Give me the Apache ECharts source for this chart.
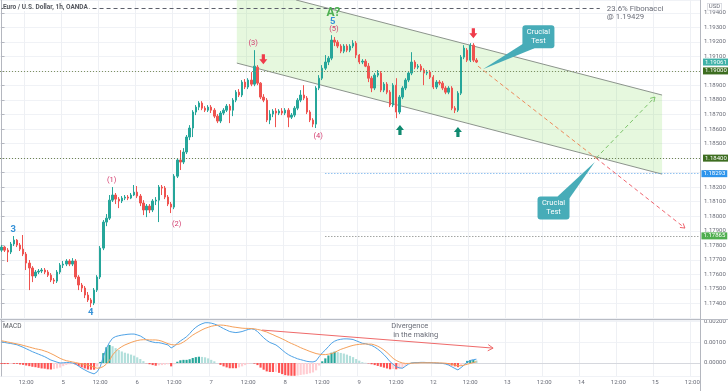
<!DOCTYPE html>
<html>
<head>
<meta charset="utf-8">
<script src="https://cdn.jsdelivr.net/npm/echarts@6/dist/echarts.min.js"></script>
<style>
  html, body { margin: 0; padding: 0; background: #fff; }
  #chart { width: 728px; height: 391px; }
</style>
</head>
<body>
<div id="chart"></div>
<script>
// EUR/USD 1h, OANDA — hourly bars from day 4 04:00, axis runs to day 15 14:00
var days = ['4', '5', '6', '7', '8', '9', '12', '13', '14', '15'];
var firstHour = 4, lastHour = 14;

// [open, close, low, high]
var candles = [
  [1.17767, 1.17788, 1.17754, 1.17802], [1.17788, 1.17767, 1.17754, 1.17795], [1.17767, 1.17754, 1.17685, 1.17781],
  [1.17754, 1.17809, 1.17740, 1.17823], [1.17809, 1.17836, 1.17795, 1.17864], [1.17836, 1.17802, 1.17788, 1.17843],
  [1.17802, 1.17774, 1.17761, 1.17816], [1.17774, 1.17740, 1.17726, 1.17871], [1.17740, 1.17678, 1.17630, 1.17754],
  [1.17678, 1.17644, 1.17492, 1.17699], [1.17644, 1.17589, 1.17547, 1.17657], [1.17589, 1.17616, 1.17575, 1.17630],
  [1.17616, 1.17623, 1.17602, 1.17637], [1.17623, 1.17630, 1.17609, 1.17644], [1.17630, 1.17616, 1.17602, 1.17644],
  [1.17616, 1.17595, 1.17582, 1.17630], [1.17595, 1.17561, 1.17547, 1.17609], [1.17561, 1.17554, 1.17534, 1.17575],
  [1.17554, 1.17616, 1.17541, 1.17630], [1.17616, 1.17664, 1.17602, 1.17678], [1.17664, 1.17671, 1.17644, 1.17692],
  [1.17671, 1.17692, 1.17657, 1.17705], [1.17692, 1.17671, 1.17657, 1.17705], [1.17671, 1.17692, 1.17657, 1.17712],
  [1.17692, 1.17582, 1.17568, 1.17705], [1.17582, 1.17527, 1.17492, 1.17595], [1.17527, 1.17506, 1.17479, 1.17541],
  [1.17506, 1.17458, 1.17437, 1.17520], [1.17458, 1.17424, 1.17410, 1.17479], [1.17424, 1.17403, 1.17375, 1.17437],
  [1.17403, 1.17492, 1.17389, 1.17506], [1.17492, 1.17582, 1.17479, 1.17595], [1.17582, 1.17781, 1.17568, 1.17795],
  [1.17781, 1.17960, 1.17767, 1.17974], [1.17960, 1.17987, 1.17932, 1.18015], [1.17987, 1.18111, 1.17974, 1.18146],
  [1.18111, 1.18146, 1.18098, 1.18201], [1.18146, 1.18118, 1.18084, 1.18160], [1.18118, 1.18105, 1.18056, 1.18132],
  [1.18105, 1.18125, 1.18091, 1.18139], [1.18125, 1.18132, 1.18111, 1.18146], [1.18132, 1.18125, 1.18111, 1.18146],
  [1.18125, 1.18146, 1.18118, 1.18160], [1.18146, 1.18166, 1.18139, 1.18215], [1.18166, 1.18139, 1.18125, 1.18208],
  [1.18139, 1.18091, 1.18070, 1.18153], [1.18091, 1.18043, 1.18008, 1.18111], [1.18043, 1.18070, 1.17994, 1.18084],
  [1.18070, 1.18043, 1.18022, 1.18084], [1.18043, 1.18105, 1.18029, 1.18118], [1.18105, 1.18111, 1.18077, 1.18132],
  [1.18111, 1.18201, 1.17960, 1.18215], [1.18201, 1.18194, 1.18146, 1.18215], [1.18194, 1.18132, 1.18118, 1.18208],
  [1.18132, 1.18084, 1.18070, 1.18146], [1.18084, 1.18063, 1.18022, 1.18098], [1.18063, 1.18276, 1.18049, 1.18290],
  [1.18276, 1.18387, 1.18263, 1.18400], [1.18387, 1.18373, 1.18318, 1.18455], [1.18373, 1.18442, 1.18359, 1.18469],
  [1.18442, 1.18545, 1.18428, 1.18559], [1.18545, 1.18607, 1.18524, 1.18627], [1.18607, 1.18717, 1.18545, 1.18730],
  [1.18717, 1.18751, 1.18696, 1.18765], [1.18751, 1.18779, 1.18730, 1.18792], [1.18779, 1.18744, 1.18730, 1.18792],
  [1.18744, 1.18730, 1.18717, 1.18758], [1.18730, 1.18751, 1.18717, 1.18765], [1.18751, 1.18730, 1.18710, 1.18765],
  [1.18730, 1.18689, 1.18675, 1.18744], [1.18689, 1.18655, 1.18641, 1.18703], [1.18655, 1.18710, 1.18641, 1.18724],
  [1.18710, 1.18730, 1.18696, 1.18744], [1.18730, 1.18758, 1.18717, 1.18772], [1.18758, 1.18730, 1.18641, 1.18772],
  [1.18730, 1.18799, 1.18689, 1.18813], [1.18799, 1.18854, 1.18785, 1.18868], [1.18854, 1.18834, 1.18820, 1.18875],
  [1.18834, 1.18923, 1.18820, 1.18937], [1.18923, 1.18889, 1.18875, 1.18944], [1.18889, 1.18937, 1.18875, 1.18950],
  [1.18937, 1.18909, 1.18895, 1.18992], [1.18909, 1.19033, 1.18895, 1.19143], [1.19026, 1.18916, 1.18902, 1.19040],
  [1.18916, 1.18820, 1.18806, 1.18923], [1.18820, 1.18799, 1.18785, 1.18840], [1.18799, 1.18662, 1.18648, 1.18813],
  [1.18662, 1.18703, 1.18634, 1.18730], [1.18703, 1.18724, 1.18682, 1.18737], [1.18724, 1.18710, 1.18613, 1.18744],
  [1.18710, 1.18724, 1.18696, 1.18737], [1.18724, 1.18710, 1.18696, 1.18744], [1.18710, 1.18730, 1.18696, 1.18744],
  [1.18730, 1.18682, 1.18613, 1.18744], [1.18682, 1.18696, 1.18669, 1.18710], [1.18696, 1.18744, 1.18682, 1.18758],
  [1.18744, 1.18799, 1.18730, 1.18813], [1.18799, 1.18834, 1.18785, 1.18868], [1.18834, 1.18813, 1.18799, 1.18902],
  [1.18813, 1.18717, 1.18703, 1.18827], [1.18717, 1.18662, 1.18648, 1.18730], [1.18662, 1.18634, 1.18613, 1.18675],
  [1.18634, 1.18882, 1.18607, 1.18895], [1.18882, 1.18950, 1.18868, 1.18971], [1.18950, 1.19019, 1.18937, 1.19040],
  [1.19019, 1.19061, 1.19006, 1.19109], [1.19061, 1.19088, 1.19040, 1.19102], [1.19088, 1.19212, 1.19074, 1.19246],
  [1.19212, 1.19198, 1.19171, 1.19233], [1.19198, 1.19171, 1.19157, 1.19212], [1.19171, 1.19136, 1.19122, 1.19184],
  [1.19136, 1.19171, 1.19122, 1.19184], [1.19171, 1.19143, 1.19129, 1.19184], [1.19143, 1.19171, 1.19129, 1.19184],
  [1.19171, 1.19191, 1.19157, 1.19212], [1.19191, 1.19109, 1.19088, 1.19205], [1.19109, 1.19061, 1.19047, 1.19116],
  [1.19061, 1.19067, 1.19047, 1.19081], [1.19067, 1.19033, 1.19026, 1.19081], [1.19033, 1.18950, 1.18923, 1.19054],
  [1.18950, 1.18882, 1.18854, 1.18964], [1.18882, 1.18971, 1.18868, 1.18985], [1.18971, 1.18985, 1.18957, 1.19006],
  [1.18985, 1.18868, 1.18854, 1.18999], [1.18868, 1.18909, 1.18854, 1.18923], [1.18909, 1.18854, 1.18840, 1.18923],
  [1.18854, 1.18765, 1.18751, 1.18868], [1.18765, 1.18902, 1.18751, 1.18916], [1.18902, 1.18717, 1.18675, 1.18950],
  [1.18717, 1.18820, 1.18703, 1.18834], [1.18820, 1.18882, 1.18806, 1.18895], [1.18882, 1.18937, 1.18868, 1.18950],
  [1.18937, 1.18985, 1.18923, 1.18999], [1.18985, 1.19061, 1.18971, 1.19129], [1.19061, 1.19026, 1.19012, 1.19074],
  [1.19026, 1.19033, 1.19012, 1.19047], [1.19033, 1.19006, 1.18992, 1.19047], [1.19006, 1.18985, 1.18902, 1.19019],
  [1.18985, 1.18992, 1.18971, 1.19006], [1.18992, 1.18957, 1.18944, 1.19006], [1.18957, 1.18889, 1.18875, 1.18971],
  [1.18889, 1.18923, 1.18875, 1.18937], [1.18923, 1.18916, 1.18902, 1.18937], [1.18916, 1.18882, 1.18868, 1.18930],
  [1.18882, 1.18854, 1.18840, 1.18895], [1.18854, 1.18882, 1.18840, 1.18895], [1.18882, 1.18744, 1.18730, 1.18895],
  [1.18744, 1.18730, 1.18710, 1.18758], [1.18730, 1.18847, 1.18717, 1.18861], [1.18847, 1.19095, 1.18834, 1.19109],
  [1.19095, 1.19157, 1.19081, 1.19177], [1.19143, 1.19074, 1.19061, 1.19157], [1.19074, 1.19177, 1.19061, 1.19191],
  [1.19177, 1.19074, 1.19061, 1.19191], [1.19074, 1.19061, 1.19054, 1.19088]
];

// MACD (12, 26, 9)
var macdLine = [
  0.00101, 0.00098, 0.00095, 0.00093, 0.00090, 0.00087, 0.00081, 0.00075, 0.00068, 0.00061,
  0.00054, 0.00048, 0.00042, 0.00036, 0.00030, 0.00022, 0.00014, 0.00009, 0.00004, 0.00000,
  0.00001, 0.00002, 0.00002, 0.00000, -0.00005, -0.00015, -0.00025, -0.00033, -0.00041, -0.00047,
  -0.00052, -0.00042, -0.00018, 0.00030, 0.00070, 0.00098, 0.00118, 0.00126, 0.00130, 0.00133,
  0.00135, 0.00137, 0.00138, 0.00138, 0.00134, 0.00129, 0.00120, 0.00110, 0.00104, 0.00100,
  0.00097, 0.00097, 0.00094, 0.00090, 0.00086, 0.00072, 0.00080, 0.00094, 0.00105, 0.00115,
  0.00125, 0.00140, 0.00157, 0.00170, 0.00180, 0.00187, 0.00192, 0.00192, 0.00190, 0.00186,
  0.00180, 0.00172, 0.00164, 0.00157, 0.00150, 0.00147, 0.00145, 0.00147, 0.00150, 0.00155,
  0.00160, 0.00163, 0.00160, 0.00150, 0.00135, 0.00120, 0.00108, 0.00098, 0.00092, 0.00086,
  0.00075, 0.00062, 0.00050, 0.00040, 0.00032, 0.00026, 0.00020, 0.00016, 0.00012, 0.00008,
  0.00006, 0.00005, 0.00010, 0.00030, 0.00048, 0.00062, 0.00078, 0.00094, 0.00104, 0.00110,
  0.00113, 0.00115, 0.00115, 0.00114, 0.00112, 0.00106, 0.00100, 0.00094, 0.00092, 0.00088,
  0.00084, 0.00076, 0.00066, 0.00054, 0.00040, 0.00024, 0.00006, -0.00006, -0.00018, -0.00023,
  -0.00025, -0.00015, -0.00005, 0.00000, 0.00002, 0.00002, 0.00003, 0.00003, 0.00002, 0.00002,
  0.00001, 0.00000, -0.00001, -0.00002, -0.00005, -0.00010, -0.00018, -0.00026, -0.00033, -0.00022,
  -0.00010, 0.00004, 0.00012, 0.00016, 0.00018
];
var signalLine = [
  0.00106, 0.00103, 0.00100, 0.00097, 0.00094, 0.00091, 0.00088, 0.00084, 0.00080, 0.00076,
  0.00072, 0.00068, 0.00065, 0.00062, 0.00057, 0.00052, 0.00045, 0.00038, 0.00030, 0.00022,
  0.00016, 0.00011, 0.00008, 0.00005, 0.00002, -0.00001, -0.00004, -0.00007, -0.00010, -0.00015,
  -0.00020, -0.00025, -0.00023, -0.00017, -0.00005, 0.00012, 0.00038, 0.00055, 0.00068, 0.00078,
  0.00086, 0.00092, 0.00098, 0.00103, 0.00107, 0.00110, 0.00111, 0.00111, 0.00110, 0.00110,
  0.00110, 0.00108, 0.00104, 0.00098, 0.00092, 0.00088, 0.00086, 0.00088, 0.00092, 0.00100,
  0.00110, 0.00122, 0.00133, 0.00142, 0.00150, 0.00158, 0.00165, 0.00170, 0.00175, 0.00178,
  0.00180, 0.00181, 0.00180, 0.00178, 0.00175, 0.00172, 0.00170, 0.00168, 0.00166, 0.00165,
  0.00165, 0.00164, 0.00163, 0.00160, 0.00157, 0.00152, 0.00148, 0.00141, 0.00135, 0.00128,
  0.00122, 0.00115, 0.00108, 0.00100, 0.00093, 0.00087, 0.00080, 0.00073, 0.00067, 0.00061,
  0.00055, 0.00050, 0.00045, 0.00042, 0.00040, 0.00040, 0.00042, 0.00045, 0.00050, 0.00058,
  0.00065, 0.00070, 0.00075, 0.00080, 0.00084, 0.00087, 0.00089, 0.00090, 0.00091, 0.00090,
  0.00090, 0.00086, 0.00080, 0.00072, 0.00062, 0.00050, 0.00036, 0.00022, 0.00012, 0.00005,
  0.00000, -0.00002, -0.00002, -0.00001, 0.00000, 0.00000, 0.00001, 0.00001, 0.00001, 0.00001,
  0.00001, 0.00001, 0.00000, 0.00000, -0.00001, -0.00003, -0.00006, -0.00010, -0.00013, -0.00013,
  -0.00010, -0.00006, -0.00002, 0.00002, 0.00006
];

// drawn levels
var fibLevel = 1.19429;
var fibEnd = 194;       // bar where the fibonacci line stops (its caption follows)
var lastPrice = 1.19061;
var fullLevels = [1.19000, 1.18400];
var targetLevels = [1.18293, 1.17865];
var targetFrom = 105;   // bar where the target lines start

// drawings, [bar position, price]
var channelUpper = [[76.3, 1.19594], [214.2, 1.18834]];
var channelLower = [[76.3, 1.19054], [214.2, 1.18290]];
var pathDown = [[154.5, 1.19033], [192.8, 1.18400]];
var pathDownMore = [[192.8, 1.18400], [221.6, 1.17919]];
var pathUp = [[192.8, 1.18400], [211.9, 1.18820]];
var redArrows = [[84.9, 1.19081], [153.0, 1.19260]];
var greenArrows = [[129.2, 1.18593], [148.0, 1.18579]];
var callouts = [
  { tip: [156.1, 1.19012], center: [174.1, 1.19236] },
  { tip: [192.4, 1.18373], center: [179.0, 1.18056] }
];
var waveMain = [['3', 3.8, 1.17910], ['4', 28.9, 1.17336], ['5', 107.4, 1.19338]];
var waveSub = [['(1)', 35.7, 1.18249], ['(2)', 56.8, 1.17946], ['(3)', 81.6, 1.19193],
               ['(4)', 102.7, 1.18554], ['(5)', 107.8, 1.19285]];
var waveA = ['A?', 107.6, 1.19396];
var fibTextAt = [196.3, 1.19457];
var divergence = [[84.5, 0.00157], [159.4, 0.00071]];
var divergenceText = [[132.4, 0.00176, 'Divergence'], [134.3, 0.00133, 'in the making']];

var FONT = 'Roboto, "Noto Sans", sans-serif';

var categories = [];
days.forEach(function (d, di) {
  for (var h = 0; h < 24; h++) {
    if (di === 0 && h < firstHour) continue;
    if (di === days.length - 1 && h > lastHour) continue;
    categories.push(d + '|' + h);
  }
});
var nCat = categories.length;

function isLabelHour(idx, val) {
  var h = +String(val).split('|')[1];
  return h === 0 || h === 12;
}

var hist = macdLine.map(function (m, i) { return +(m - signalLine[i]).toFixed(6); });
var histData = hist.map(function (h, i) {
  var prev = i > 0 ? hist[i - 1] : h;
  var c;
  if (h >= 0) c = h >= prev ? '#26a69a' : '#b2dfdb';
  else c = h <= prev ? '#ff5252' : '#ffcdd2';
  return { value: h, itemStyle: { color: c } };
});

function lineEl(a, b, stroke, dash) {
  return { type: 'line', shape: { x1: a[0], y1: a[1], x2: b[0], y2: b[1] },
    style: { stroke: stroke, lineWidth: 1, lineDash: dash || null } };
}
function headEl(from, to, stroke, size) {
  var a = Math.atan2(to[1] - from[1], to[0] - from[0]);
  var p1 = [to[0] - size * Math.cos(a - 0.55), to[1] - size * Math.sin(a - 0.55)];
  var p2 = [to[0] - size * Math.cos(a + 0.55), to[1] - size * Math.sin(a + 0.55)];
  return { type: 'polyline', shape: { points: [p1, to, p2] }, style: { stroke: stroke, lineWidth: 1, fill: null } };
}
function textEl(txt, p, color, size, weight, align) {
  return { type: 'text', x: p[0], y: p[1], style: { text: txt, fill: color, fontSize: size,
    fontWeight: weight || 'normal', fontFamily: FONT, align: align || 'center', verticalAlign: 'middle' } };
}

function renderChannel(params, api) {
  var top = params.coordSys.y;
  var u0 = api.coord(channelUpper[0]), u1 = api.coord(channelUpper[1]);
  var l0 = api.coord(channelLower[0]), l1 = api.coord(channelLower[1]);
  var pts = [], start = u0;
  if (u0[1] < top) {
    var t = (top - u0[1]) / (u1[1] - u0[1]);
    start = [u0[0] + t * (u1[0] - u0[0]), top];
    pts.push([u0[0], top]);
  }
  pts.push(start, u1, l1, l0);
  return { type: 'group', children: [
    { type: 'polygon', shape: { points: pts }, style: { fill: 'rgba(130,222,90,0.2)' } },
    lineEl(start, u1, '#8c948c'),
    lineEl(l0, l1, '#8c948c')
  ] };
}

function renderNotes(params, api) {
  var kids = [];
  var a = api.coord(pathDown[0]), b = api.coord(pathDown[1]);
  kids.push(lineEl(a, b, '#ee8a5c', [4, 3]));
  var c = api.coord(pathDownMore[0]), d = api.coord(pathDownMore[1]);
  kids.push(lineEl(c, d, '#f0646e', [4, 3]), headEl(c, d, '#f0646e', 5));
  var e = api.coord(pathUp[0]), f = api.coord(pathUp[1]);
  kids.push(lineEl(e, f, '#7cc46a', [4, 3]), headEl(e, f, '#7cc46a', 5));

  callouts.forEach(function (co) {
    var tip = api.coord(co.tip), ctr = api.coord(co.center);
    var w = 32, h = 23, bx = ctr[0] - w / 2, by = ctr[1] - h / 2;
    var left = tip[0] < ctr[0], below = tip[1] > ctr[1];
    var cx = left ? bx : bx + w, cy = below ? by + h : by;
    var sx = left ? 1 : -1, sy = below ? -1 : 1;
    kids.push({ type: 'polygon', shape: { points: [[cx + sx * 3, cy + sy * 6], [cx + sx * 12, cy], tip] },
      style: { fill: '#47acb8' } });
    kids.push({ type: 'rect', shape: { x: bx, y: by, width: w, height: h, r: 3 }, style: { fill: '#47acb8' } });
    kids.push({ type: 'text', x: ctr[0], y: ctr[1], style: { text: 'Crucial\nTest', fill: '#fff', fontSize: 7.5,
      lineHeight: 9, fontFamily: FONT, align: 'center', verticalAlign: 'middle' } });
  });

  waveMain.forEach(function (w) { kids.push(textEl(w[0], api.coord([w[1], w[2]]), '#3591d8', 9.5, 'bold')); });
  waveSub.forEach(function (w) { kids.push(textEl(w[0], api.coord([w[1], w[2]]), '#d3396c', 7.5)); });
  kids.push(textEl(waveA[0], api.coord([waveA[1], waveA[2]]), '#4caf50', 12, 'bold'));

  var ft = api.coord(fibTextAt);
  kids.push({ type: 'text', x: ft[0], y: ft[1], style: { text: '23.6% Fibonacci\n@ ' + fibLevel.toFixed(5),
    fill: '#6a6d78', fontSize: 7.8, lineHeight: 8.5, fontFamily: FONT, align: 'left', verticalAlign: 'top' } });
  return { type: 'group', children: kids };
}

function renderDivergence(params, api) {
  var a = api.coord(divergence[0]), b = api.coord(divergence[1]);
  var kids = [lineEl(a, b, '#ef6a6a'), headEl(a, b, '#ef6a6a', 6)];
  divergenceText.forEach(function (t) {
    kids.push(textEl(t[2], api.coord([t[0], t[1]]), '#6a6d78', 7.5));
  });
  return { type: 'group', children: kids };
}

function levelLabel(bg) {
  return { show: true, position: 'end', distance: 3, color: '#fff', backgroundColor: bg,
    padding: [1, 2, 0, 2], fontSize: 6, fontFamily: FONT,
    formatter: function (p) { return (+p.value).toFixed(5); } };
}

var markLines = [
  [{ coord: [0, fibLevel], value: fibLevel, lineStyle: { color: '#5d606b', type: [4, 3], width: 1 }, label: { show: false } },
   { coord: [fibEnd, fibLevel] }],
  { yAxis: lastPrice, lineStyle: { color: 'rgba(0,0,0,0)', width: 0 }, label: levelLabel('#3fb1a8') },
  { yAxis: fullLevels[0], lineStyle: { color: '#7f9160', type: [1, 2], width: 1 }, label: levelLabel('#3d6d20') },
  { yAxis: fullLevels[1], lineStyle: { color: '#6f8452', type: [1, 2], width: 1 }, label: levelLabel('#3d6d20') },
  [{ coord: [targetFrom, targetLevels[0]], value: targetLevels[0],
     lineStyle: { color: '#5ea6ea', type: [1, 2], width: 1 }, label: levelLabel('#2d94ec') },
   { coord: [nCat - 1, targetLevels[0]] }],
  [{ coord: [targetFrom, targetLevels[1]], value: targetLevels[1],
     lineStyle: { color: '#767a76', type: [1, 2], width: 1 }, label: levelLabel('#4fae4f') },
   { coord: [nCat - 1, targetLevels[1]] }]
];

var chart = echarts.init(document.getElementById('chart'), null, { renderer: 'canvas' });

var axisLabelStyle = { color: '#6a6d78', fontSize: 6, fontFamily: FONT };

chart.setOption({
  animation: false,
  backgroundColor: '#ffffff',
  grid: [
    { left: 0, right: 28, top: 0, height: 318, containLabel: false, outerBoundsMode: 'none' },
    { left: 0, right: 28, top: 320, height: 56, containLabel: false, outerBoundsMode: 'none' }
  ],
  xAxis: [
    { type: 'category', gridIndex: 0, data: categories, boundaryGap: true,
      axisLine: { show: false }, axisTick: { show: false, alignWithLabel: true }, axisLabel: { show: false },
      splitLine: { show: true, interval: isLabelHour, lineStyle: { color: '#eef0f4' } } },
    { type: 'category', gridIndex: 1, data: categories, boundaryGap: true,
      axisLine: { show: true, lineStyle: { color: '#d6d8de' } }, axisTick: { show: false, alignWithLabel: true },
      axisLabel: Object.assign({ interval: isLabelHour, margin: 3,
        formatter: function (v) { var s = v.split('|'); return s[1] === '0' ? s[0] : '12:00'; } }, axisLabelStyle),
      splitLine: { show: true, interval: isLabelHour, lineStyle: { color: '#eef0f4' } } },
    { type: 'value', gridIndex: 0, min: -0.5, max: nCat - 0.5, show: false },
    { type: 'value', gridIndex: 1, min: -0.5, max: nCat - 0.5, show: false }
  ],
  yAxis: [
    { type: 'value', gridIndex: 0, position: 'right', min: 1.173, max: 1.19488, interval: 0.001, scale: true,
      axisLine: { show: true, lineStyle: { color: '#b4b7bf' } },
      axisTick: { show: true, length: 3, lineStyle: { color: '#b4b7bf' } },
      axisLabel: Object.assign({ margin: 4, showMaxLabel: false, showMinLabel: false,
        formatter: function (v) { return v.toFixed(5); } }, axisLabelStyle),
      splitLine: { show: true, lineStyle: { color: '#f0f2f6' } } },
    { type: 'value', gridIndex: 1, position: 'right', min: -0.00062, max: 0.00205, splitNumber: 3,
      axisLine: { show: true, lineStyle: { color: '#b4b7bf' } },
      axisTick: { show: true, length: 3, lineStyle: { color: '#b4b7bf' } },
      axisLabel: Object.assign({ margin: 4, showMaxLabel: false, showMinLabel: false,
        formatter: function (v) {
          return Math.abs(v * 1000 - Math.round(v * 1000)) < 1e-6 ? v.toFixed(5) : '';
        } }, axisLabelStyle),
      splitLine: { show: true, lineStyle: { color: '#f0f2f6' } } }
  ],
  series: [
    { type: 'custom', name: 'channel', xAxisIndex: 2, yAxisIndex: 0, data: [[0, 1.18]], silent: true, z: 1,
      renderItem: renderChannel },
    { type: 'candlestick', name: 'EURUSD', xAxisIndex: 0, yAxisIndex: 0, data: candles, barWidth: '62%', z: 3,
      itemStyle: { color: '#26a69a', color0: '#ef5350', borderColor: '#26a69a', borderColor0: '#ef5350', borderWidth: 1 },
      markLine: { symbol: ['none', 'none'], precision: 5, silent: true, animation: false, data: markLines } },
    { type: 'scatter', name: 'sell', xAxisIndex: 2, yAxisIndex: 0, data: redArrows, z: 6, silent: true,
      symbol: 'path://M3,0 H7 V5 H10 L5,10 L0,5 H3 Z', symbolSize: [8, 10], itemStyle: { color: '#ef3b4a', opacity: 1 } },
    { type: 'scatter', name: 'buy', xAxisIndex: 2, yAxisIndex: 0, data: greenArrows, z: 6, silent: true,
      symbol: 'path://M5,0 L10,5 H7 V10 H3 V5 H0 Z', symbolSize: [8, 10], itemStyle: { color: '#0f8a70', opacity: 1 } },
    { type: 'custom', name: 'notes', xAxisIndex: 2, yAxisIndex: 0, data: [[0, 1.18]], silent: true, z: 7,
      renderItem: renderNotes },
    { type: 'bar', name: 'Histogram', xAxisIndex: 1, yAxisIndex: 1, data: histData, barWidth: '70%' },
    { type: 'line', name: 'MACD', xAxisIndex: 1, yAxisIndex: 1, data: macdLine, showSymbol: false,
      lineStyle: { color: '#4ea2e6', width: 1 }, z: 4 },
    { type: 'line', name: 'Signal', xAxisIndex: 1, yAxisIndex: 1, data: signalLine, showSymbol: false,
      lineStyle: { color: '#f5a05a', width: 1 }, z: 4 },
    { type: 'custom', name: 'divergence', xAxisIndex: 3, yAxisIndex: 1, data: [[0, 0]], silent: true, z: 7,
      renderItem: renderDivergence }
  ],
  graphic: [
    { type: 'line', shape: { x1: 0, y1: 319.5, x2: 728, y2: 319.5 }, style: { stroke: '#b9bcc4', lineWidth: 1 }, z: 10 },
    { type: 'line', shape: { x1: 700.5, y1: 0, x2: 700.5, y2: 391 }, style: { stroke: '#b4b7bf', lineWidth: 1 }, z: 10 },
    { type: 'text', left: 3, top: 4, z: 10,
      style: { text: 'Euro / U.S. Dollar, 1h, OANDA', fill: '#55585f', fontSize: 6.5, fontWeight: 'bold',
        fontFamily: FONT, backgroundColor: '#fff', padding: [0, 1, 0, 0] } },
    { type: 'text', left: 707, top: 3, z: 10,
      style: { text: 'USD', fill: '#6a6d78', fontSize: 6, fontFamily: FONT,
        borderColor: '#d6d8de', borderWidth: 0.8, padding: [0, 1, 0, 1], backgroundColor: '#fff' } },
    { type: 'text', left: 3, top: 323, z: 10,
      style: { text: 'MACD', fill: '#55585f', fontSize: 6.5, fontFamily: FONT } }
  ]
});
</script>
</body>
</html>
